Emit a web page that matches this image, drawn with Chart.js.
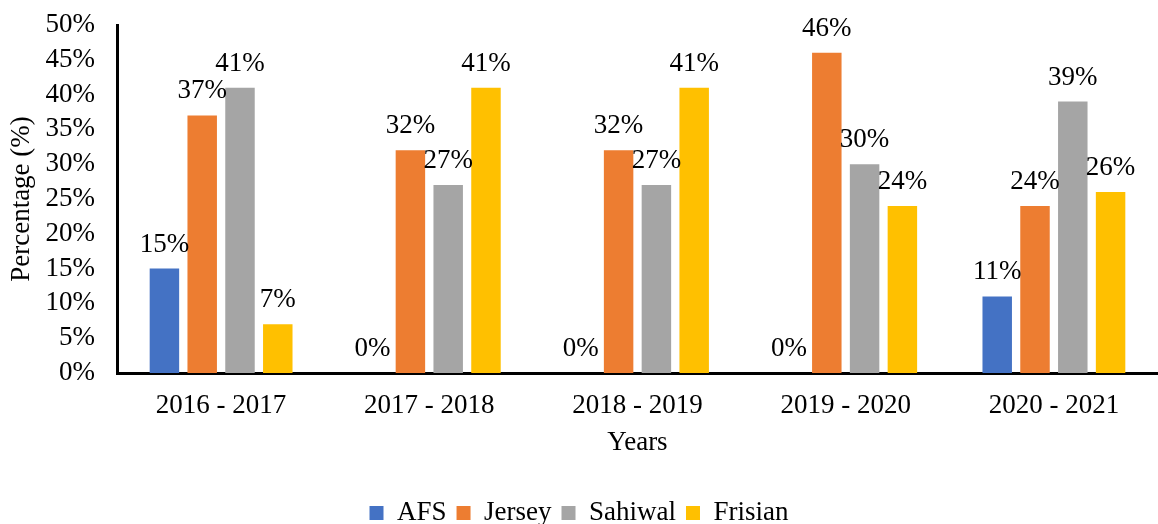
<!DOCTYPE html>
<html>
<head>
<meta charset="utf-8">
<script src="https://cdn.jsdelivr.net/npm/chart.js@4"></script>
<style>
  body { margin: 0; background: #fff; overflow: hidden; }
  .chart-box { width: 1158px; height: 524px; position: relative; }
</style>
</head>
<body>
<div class="chart-box"><canvas id="myChart"></canvas></div>
<script>
const years = ["2016 - 2017", "2017 - 2018", "2018 - 2019", "2019 - 2020", "2020 - 2021"];
const afs = [15, 0, 0, 0, 11];
const jersey = [37, 32, 32, 46, 24];
const sahiwal = [41, 27, 27, 30, 39];
const frisian = [7, 41, 41, 24, 26];

const serif = "'Liberation Serif', 'Times New Roman', serif";
Chart.defaults.color = '#000';
Chart.defaults.font.family = serif;

// value labels above each bar
const barLabels = {
  id: 'barLabels',
  afterDatasetsDraw(chart) {
    const ctx = chart.ctx;
    ctx.save();
    ctx.font = '27px ' + serif;
    ctx.fillStyle = '#000';
    ctx.textAlign = 'center';
    ctx.textBaseline = 'alphabetic';
    chart.data.datasets.forEach((ds, i) => {
      const meta = chart.getDatasetMeta(i);
      meta.data.forEach((bar, j) => {
        ctx.fillText(ds.data[j] + '%', bar.x, bar.y - 17);
      });
    });
    ctx.restore();
  }
};

var ctx = document.getElementById('myChart').getContext('2d');

var chart = new Chart(ctx, {
  type: 'bar',
  data: {
    labels: years,
    datasets: [
      { label: 'AFS', backgroundColor: '#4472C4', data: afs },
      { label: 'Jersey', backgroundColor: '#ED7D31', data: jersey },
      { label: 'Sahiwal', backgroundColor: '#A5A5A5', data: sahiwal },
      { label: 'Frisian', backgroundColor: '#FFC000', data: frisian }
    ]
  },
  options: {
    responsive: true,
    maintainAspectRatio: false,
    animation: false,
    categoryPercentage: 0.726,
    barPercentage: 0.78,
    layout: { padding: { top: 25, left: 0, right: 0, bottom: -12.5 } },
    plugins: {
      tooltip: { enabled: false },
      legend: {
        position: 'bottom',
        labels: {
          boxWidth: 14,
          boxHeight: 14,
          padding: 10,
          font: { size: 27, family: serif }
        }
      }
    },
    scales: {
      x: {
        grid: { display: false, drawTicks: false },
        border: { display: true, color: '#000', width: 3 },
        ticks: { padding: 17, font: { size: 27, family: serif } },
        title: {
          display: true,
          text: 'Years',
          font: { size: 27, family: serif },
          padding: { top: 0, bottom: 30.7 }
        },
        afterFit: s => { s.height = 116.5; }
      },
      y: {
        min: 0,
        max: 50,
        grid: { display: false, drawTicks: false },
        border: { display: true, color: '#000', width: 3 },
        ticks: {
          stepSize: 5,
          autoSkip: false,
          padding: 22,
          font: { size: 27, family: serif },
          callback: v => v + '%'
        },
        title: {
          display: true,
          text: 'Percentage (%)',
          font: { size: 27, family: serif },
          padding: { top: 6, bottom: 0 }
        },
        afterFit: s => {
          s.width = 117;
          s.paddingTop = 16;
          s.paddingBottom = 16;
        }
      }
    }
  },
  plugins: [barLabels]
});
</script>
</body>
</html>
